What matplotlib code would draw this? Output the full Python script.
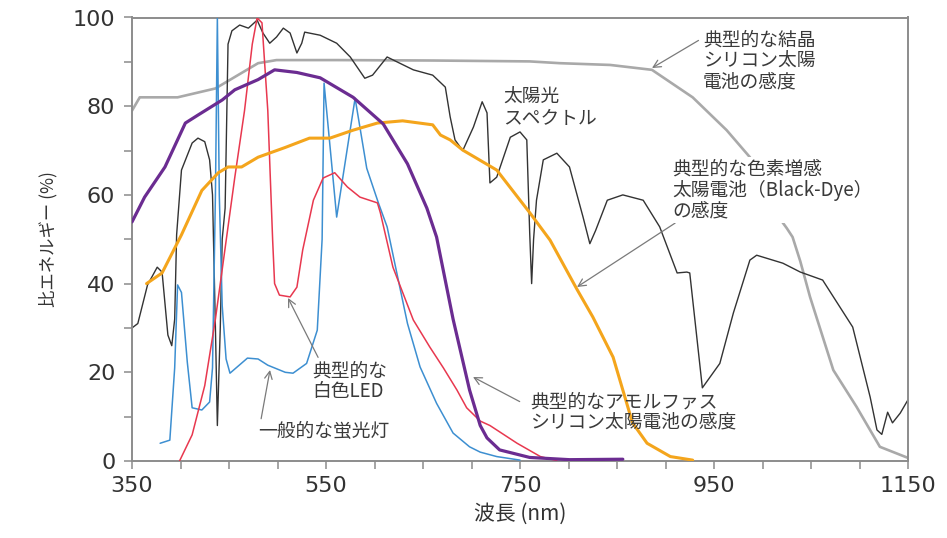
import matplotlib
matplotlib.use("Agg")
import matplotlib.pyplot as plt
from matplotlib.ticker import MultipleLocator

# ---------------- data (wavelength nm, relative energy %) ----------------
si_wl = [350, 358, 397, 436, 480, 499, 560, 661, 760, 791, 843, 886, 928, 963, 987,
         1000, 1015, 1025, 1031, 1039, 1049, 1073, 1097, 1121, 1150]
si_val = [79, 82, 82, 84, 89.7, 90.4, 90.4, 90.3, 90.1, 89.7, 89.3, 88.2, 82, 74.6, 68.5,
          62.5, 55.5, 52.5, 50.5, 45, 37, 20.5, 12.2, 3.2, 0.7]

sun_wl = [350, 356, 366, 376, 381, 387, 391, 394, 396, 401, 412, 418, 425, 430, 433,
          436, 438, 441, 443, 446, 449, 453, 461, 470, 479, 485, 492, 499, 506, 513,
          520, 525, 528, 544, 561, 575, 590, 598, 613, 626, 640, 660, 673, 678, 683,
          691, 702, 711, 716, 719, 726, 740, 750, 757, 760, 762, 764, 767, 774, 788,
          801, 815, 822, 828, 840, 856, 877, 894, 912, 922, 925, 938, 956, 970, 987,
          994, 1021, 1039, 1062, 1093, 1111, 1118, 1123, 1129, 1134, 1142, 1150]
sun_val = [30, 31, 39.7, 43.7, 42.6, 28.4, 26, 32, 51, 65.6, 71.7, 72.8, 72, 67.9, 60,
           30, 8, 30, 50, 57, 94, 97, 98.3, 97.6, 99.4, 96.5, 94.2, 95.6, 97.6, 96.5,
           92, 94.2, 96.7, 96, 94.2, 91.1, 86.3, 87, 91.1, 89.7, 88.2, 87, 84.3, 77.6, 72.4,
           70, 75.3, 81, 78.5, 62.7, 64, 73, 74.2, 72.4, 51.4, 40, 50, 58.8, 67.9, 69.4,
           66.3, 55, 49, 52, 58.8, 60, 58.8, 52.8, 42.4, 42.6, 42.4, 16.5, 22, 33.4, 45.3,
           46.4, 44.6, 42.6, 40.8, 30.2, 14.4, 7, 6, 11, 8.6, 10.8, 13.8]

fl_wl = [379, 389, 394, 397, 401, 407, 412, 422, 430, 433, 436, 438, 440, 443, 447,
         451, 460, 469, 480, 490, 508, 516, 530, 541, 546, 548, 561, 580, 592, 604,
         613, 623, 634, 647, 664, 681, 698, 709, 726, 750]
fl_val = [4, 4.7, 21, 39.7, 38, 22.3, 12, 11.5, 13.3, 21, 60, 100, 60, 35, 23,
          19.8, 21.5, 23.2, 23, 21.6, 20, 19.8, 22, 29.5, 50, 85.2, 55, 81.8, 66, 58.2,
          52.8, 42.4, 31, 21.2, 13, 6.3, 3.2, 2, 1, 0.2]

led_wl = [399, 412, 425, 436, 446, 456, 466, 474, 479, 484, 490, 495, 497, 502, 513,
          520, 526, 537, 547, 559, 572, 585, 603, 606, 619, 640, 657, 671, 685, 695,
          709, 719, 733, 747, 771, 788]
led_val = [0, 5.9, 17, 32, 48, 64, 79, 94, 99.9, 98.8, 79, 49.8, 40, 37.4, 37,
           39.2, 47.6, 58.8, 63.8, 65, 61.8, 59.5, 58.2, 56, 43.7, 31.8, 25.7, 21, 16, 12,
           9, 8, 6, 4, 1, 0.1]

dye_wl = [365, 381, 401, 422, 439, 449, 463, 480, 508, 533, 554, 578, 603, 629, 660,
          668, 678, 691, 726, 760, 781, 794, 809, 825, 846, 856, 866, 881, 905, 928]
dye_val = [40, 42.4, 51, 61, 65, 66.3, 66.3, 68.5, 70.7, 72.8, 72.8, 74.6, 76.2, 76.7, 75.8,
           73.5, 72.4, 70.1, 65.6, 56, 49.8, 44.6, 38.6, 32.5, 23.4, 16, 8.6, 4, 1, 0.2]

asi_wl = [350, 363, 384, 405, 418, 443, 456, 480, 497, 520, 544, 578, 609, 634, 654,
          664, 681, 698, 709, 716, 729, 760, 801, 856]
asi_val = [53.9, 59.5, 66.3, 76.2, 78, 81.4, 83.7, 86, 88.2, 87.6, 86.4, 82, 76, 67, 57,
           50.5, 32, 16, 8, 5.2, 2.5, 0.8, 0.3, 0.4]

x_ticks = [350, 550, 750, 950, 1150]
y_ticks = [0, 20, 40, 60, 80, 100]

# ---------------- figure ----------------
W, H = 947, 538
fig = plt.figure(figsize=(W / 100, H / 100), dpi=100)
ax = fig.add_axes([132 / W, 1 - 461 / H, 776 / W, 443.5 / H])

line_kw = dict(solid_joinstyle="round", solid_capstyle="round")
ax.plot(si_wl, si_val, color="#a9a9a9", lw=1.9, zorder=1, **line_kw)
ax.plot(sun_wl, sun_val, color="#333333", lw=1.0, zorder=2, **line_kw)
ax.plot(fl_wl, fl_val, color="#3d8fd1", lw=1.1, zorder=3, **line_kw)
ax.plot(led_wl, led_val, color="#e8384f", lw=1.1, zorder=4, **line_kw)
ax.plot(dye_wl, dye_val, color="#f4a51c", lw=2.2, zorder=5, **line_kw)
ax.plot(asi_wl, asi_val, color="#6b2c91", lw=2.3, zorder=6, **line_kw)

ax.set_xlim(350, 1150)
ax.set_ylim(0, 100)
ax.set_xticks(x_ticks)
ax.set_yticks(y_ticks)
ax.xaxis.set_minor_locator(MultipleLocator(50))
ax.yaxis.set_minor_locator(MultipleLocator(10))
for sp in ax.spines.values():
    sp.set_color("#8c8c8c")
    sp.set_linewidth(1.4)
ax.tick_params(which="both", direction="out", length=6, width=1.1, color="#8c8c8c")
ax.tick_params(axis="both", which="major", labelsize=16, labelcolor="#333333")
ax.tick_params(axis="x", which="major", pad=5)
ax.tick_params(axis="y", which="major", pad=6)
for lab in ax.get_xticklabels() + ax.get_yticklabels():
    lab.set_family("DejaVu Sans")

jp = ["Noto Sans CJK JP", "DejaVu Sans"]
ax.set_xlabel("波長 (nm)", family=jp, fontsize=15, color="#333333", labelpad=5)
ax.set_ylabel("比エネルギー (%)", family=jp, fontsize=12.5, color="#333333", labelpad=11)


def fp(x, y):
    return (x, H - y)


txt_kw = dict(family=jp, fontsize=13.5, color="#3a3a3a", linespacing=0.98,
              xycoords="figure pixels", textcoords="figure pixels",
              ha="left", va="center", zorder=10)
arrow = dict(arrowstyle="->", color="#7a7a7a", lw=0.9, shrinkA=0, shrinkB=0)

ax.annotate("典型的な結晶\nシリコン太陽\n電池の感度", xy=fp(652, 68), xytext=fp(703, 61),
            arrowprops=dict(arrow, relpos=(-0.04, 0.83)), **txt_kw)
ax.annotate("太陽光\nスペクトル", xy=fp(503, 108), xytext=fp(503, 108), **txt_kw)
ax.annotate("典型的な色素増感\n太陽電池（Black-Dye）\nの感度", xy=fp(577, 287),
            xytext=fp(672, 190),
            arrowprops=dict(arrow, relpos=(0.03, 0.0)),
            bbox=dict(boxstyle="square,pad=0.1", fc="white", ec="none"), **txt_kw)
ax.annotate("典型的な\n白色LED", xy=fp(288, 298), xytext=fp(312, 381),
            arrowprops=dict(arrow, relpos=(0.1, 1.0)), **txt_kw)
ax.annotate("一般的な蛍光灯", xy=fp(270, 370), xytext=fp(258, 432),
            arrowprops=dict(arrow, relpos=(0.02, 1.0)), **txt_kw)
ax.annotate("典型的なアモルファス\nシリコン太陽電池の感度", xy=fp(473, 377), xytext=fp(530, 412),
            arrowprops=dict(arrow, relpos=(-0.05, 0.75)), **txt_kw)

fig.savefig("out.png", dpi=100, facecolor="white")
